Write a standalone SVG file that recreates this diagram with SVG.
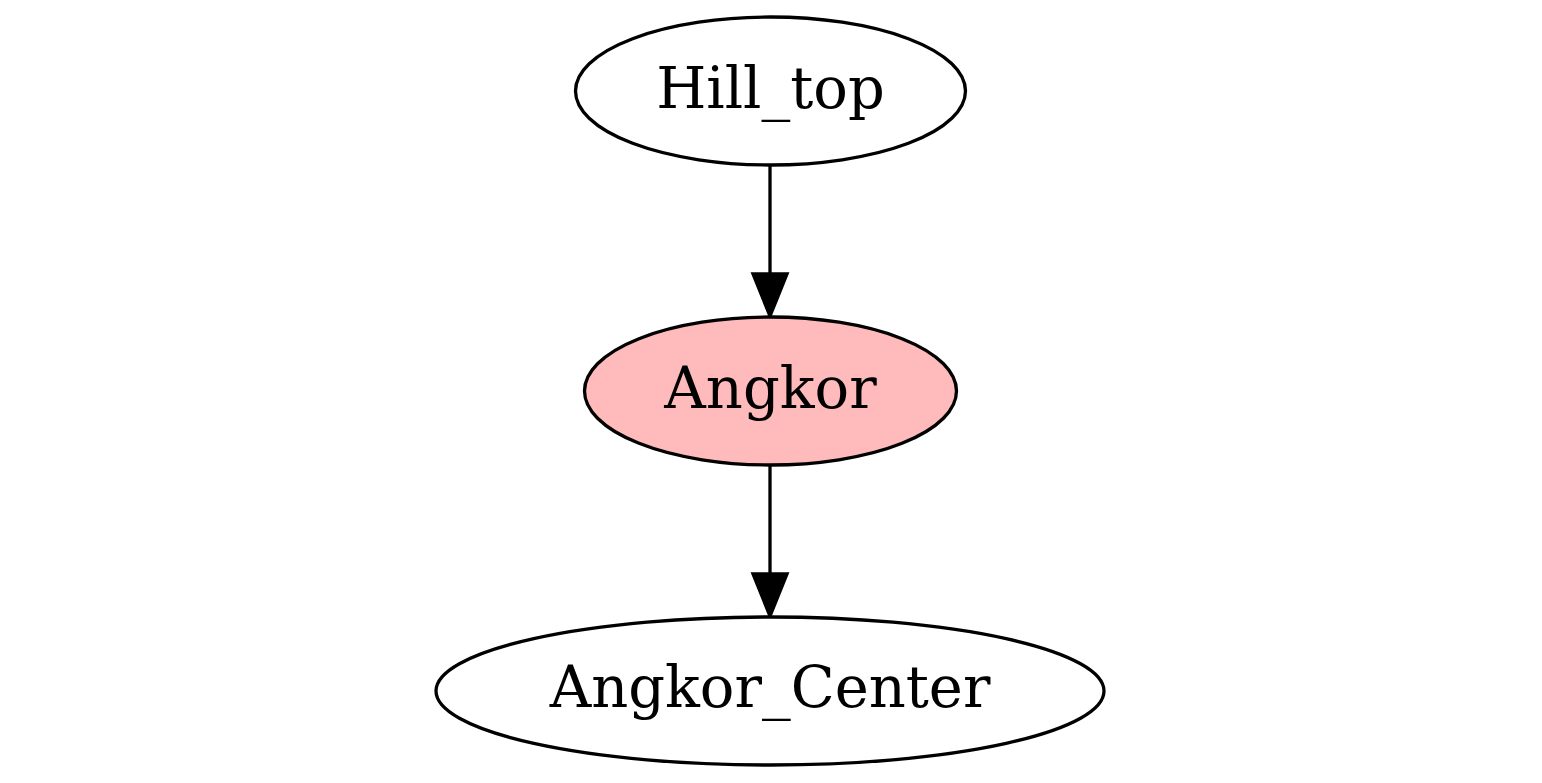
<svg xmlns="http://www.w3.org/2000/svg" width="1542" height="783" viewBox="0 0 1542 783">
<style>
.node ellipse{stroke:#000;stroke-width:3.3}
.node text{font-family:"DejaVu Serif",serif;font-size:57.5px;text-anchor:middle;fill:#000}
.edge line{stroke:#000;stroke-width:3.3}
.edge polygon{fill:#000;stroke:#000;stroke-width:3.3}
</style>
<rect width="1542" height="783" fill="#fff"/>
<g id="edges">
<g class="edge" id="e_hill_angkor">
<line x1="770" y1="166" x2="770" y2="274"/>
<polygon points="753,274 787,274 770,316"/>
</g>
<g class="edge" id="e_angkor_center">
<line x1="770" y1="466" x2="770" y2="574"/>
<polygon points="753,574 787,574 770,616"/>
</g>
</g>
<g class="node" id="Hill_top">
<ellipse cx="770.5" cy="91" rx="195" ry="74" fill="#fff"/>
<text x="770.5" y="108">Hill_top</text>
</g>
<g class="node" id="Angkor">
<ellipse cx="770.5" cy="391" rx="186" ry="74" fill="#ffbbbb"/>
<text x="770.5" y="408">Angkor</text>
</g>
<g class="node" id="Angkor_Center">
<ellipse cx="770" cy="691" rx="334" ry="74" fill="#fff"/>
<text x="770" y="707">Angkor_Center</text>
</g>
</svg>
